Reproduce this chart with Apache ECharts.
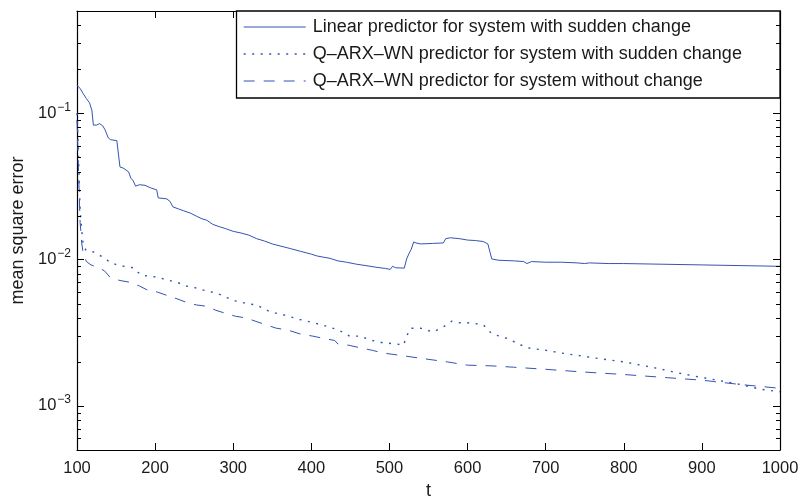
<!DOCTYPE html>
<html>
<head>
<meta charset="utf-8">
<script src="https://cdn.jsdelivr.net/npm/echarts@6/dist/echarts.min.js"></script>
<style>
  html, body { margin: 0; padding: 0; background: #ffffff; }
  #chart { width: 800px; height: 498px; }
</style>
</head>
<body>
<div id="chart"></div>
<script>
// Series names
const seriesNames = [
  'Linear predictor for system with sudden change',
  'Q\u2013ARX\u2013WN predictor for system with sudden change',
  'Q\u2013ARX\u2013WN predictor for system without change'
];

// Linear predictor, system with sudden change
const tLinear = [100,104,108,112,116,119,121,125,129,133,136,140,143,151,153,155,160,166,169,172,175,180,187,195,202,204,210,215,219,223,230,236,245,253,260,266,274,282,290,300,310,320,330,340,350,360,373,386,400,407,415,424,434,445,458,470,484,495,501,504,508,519,522,525,528,531,534,540,555,569,572,578,590,600,610,620,626,631,640,660,672,676,682,700,720,740,750,756,780,800,850,900,950,1000];
const mseLinear = [0.155,0.148,0.136,0.126,0.118,0.105,0.083,0.083,0.085,0.082,0.077,0.068,0.066,0.065,0.063,0.043,0.042,0.0398,0.036,0.0345,0.0318,0.0325,0.0322,0.0308,0.0300,0.0264,0.0262,0.0260,0.0250,0.0229,0.0222,0.0216,0.0208,0.0198,0.0190,0.0186,0.0174,0.0168,0.0163,0.0156,0.0152,0.0147,0.0139,0.0134,0.0128,0.0124,0.0119,0.0114,0.0109,0.0106,0.0104,0.0102,0.0098,0.0096,0.0093,0.0091,0.00885,0.0087,0.00857,0.0090,0.0088,0.00875,0.0101,0.0110,0.0118,0.0132,0.0130,0.0128,0.0129,0.0130,0.0139,0.0141,0.0139,0.0136,0.0135,0.0133,0.0128,0.0101,0.0099,0.0098,0.0097,0.0094,0.0097,0.0096,0.0096,0.0095,0.0094,0.0095,0.0094,0.0094,0.0093,0.0092,0.0091,0.0090];

// Q-ARX-WN predictor, system with sudden change
const tQarxChange = [100,101,102,103,104,106,108,112,121,127,134,142,151,160,172,178,183,195,206,218,228,240,253,266,279,292,304,318,330,347,364,385,403,420,435,449,462,478,492,510,518,522,527,540,556,566,574,580,590,600,620,626,632,650,676,700,720,745,770,800,822,845,865,890,920,950,975,1000];
const mseQarxChange = [0.1,0.075,0.05,0.032,0.022,0.016,0.0125,0.0115,0.0113,0.0108,0.0104,0.0096,0.0092,0.0090,0.0088,0.0082,0.0078,0.0077,0.0075,0.0072,0.0070,0.0066,0.0064,0.0061,0.0059,0.0055,0.0052,0.0050,0.0049,0.0044,0.0042,0.0039,0.0037,0.0035,0.0033,0.0030,0.0030,0.0028,0.0027,0.00265,0.0026,0.0030,0.0034,0.0034,0.0032,0.0034,0.0036,0.0038,0.0037,0.0037,0.0036,0.0033,0.0031,0.0029,0.0025,0.0024,0.0023,0.0022,0.0021,0.0020,0.0019,0.0018,0.0017,0.0016,0.0015,0.0014,0.0013,0.00125];

// Q-ARX-WN predictor, system without change
const tQarxNoChange = [100,101,102,103,104,106,108,112,118,125,135,143,155,168,180,190,203,215,228,240,253,266,278,290,303,316,328,341,355,370,386,402,415,430,434,448,462,478,492,518,545,574,600,630,659,700,745,800,856,900,950,1000];
const mseQarxNoChange = [0.09,0.06,0.04,0.026,0.018,0.013,0.011,0.0097,0.0092,0.0089,0.0084,0.0075,0.0072,0.0070,0.0066,0.0062,0.0060,0.0057,0.0054,0.0051,0.0049,0.0048,0.0045,0.0043,0.0041,0.0040,0.0038,0.0036,0.0034,0.0033,0.0031,0.0030,0.0029,0.0028,0.00265,0.0026,0.0025,0.0024,0.0023,0.0022,0.0021,0.0020,0.0019,0.00188,0.00184,0.00178,0.00171,0.00164,0.00156,0.0015,0.0014,0.00132];

// Axis ranges and tick values
const xMin = 100, xMax = 1000, xStep = 100;
const yMin = 0.0005, yMax = 0.5;
const yMajorTicks = [0.001, 0.01, 0.1];
const yMinorTicks = [
  0.0006, 0.0007, 0.0008, 0.0009,
  0.002, 0.003, 0.004, 0.005, 0.006, 0.007, 0.008, 0.009,
  0.02, 0.03, 0.04, 0.05, 0.06, 0.07, 0.08, 0.09,
  0.2, 0.3, 0.4
];

const lineColor = '#3553b2';
const textColor = '#1a1a1a';
const fontFamily = '"Liberation Sans", Arial, sans-serif';
const lineStyles = [
  { color: lineColor, width: 1, type: 'solid' },
  { color: lineColor, width: 1.4, type: [2, 6.5] },
  { color: lineColor, width: 1, type: [11, 9] }
];

function zip(xs, ys) { return xs.map((x, i) => [x, ys[i]]); }

const chart = echarts.init(document.getElementById('chart'), null, { renderer: 'canvas' });

const supLabel = v => {
  const e = Math.round(Math.log10(v));
  return '{base|10}{sup|' + (e < 0 ? '\u2212' + (-e) : e) + '}';
};

const commonX = {
  type: 'value', min: xMin, max: xMax, interval: xStep,
  splitLine: { show: false },
  axisLine: { lineStyle: { color: '#000', width: 1.2 } },
  axisTick: { inside: true, length: 7, lineStyle: { color: '#000', width: 1 } }
};
const commonY = {
  type: 'log', logBase: 10, min: yMin, max: yMax,
  splitLine: { show: false },
  minorTick: { show: false },
  axisLine: { show: true, lineStyle: { color: '#000', width: 1.2 } },
  axisTick: { inside: true, length: 7, lineStyle: { color: '#000', width: 1 } }
};

// Short inward ticks at 2..9 of every decade, on both vertical edges of the plot
function renderMinorTick(params, api) {
  const v = api.value(1);
  const pl = api.coord([xMin, v]);
  const pr = api.coord([xMax, v]);
  const y = Math.round(pl[1]) + 0.5;
  const len = 4;
  return {
    type: 'group',
    children: [
      { type: 'line', shape: { x1: pl[0], y1: y, x2: pl[0] + len, y2: y },
        style: { stroke: '#000', lineWidth: 1 } },
      { type: 'line', shape: { x1: pr[0], y1: y, x2: pr[0] - len, y2: y },
        style: { stroke: '#000', lineWidth: 1 } }
    ]
  };
}

const option = {
  animation: false,
  backgroundColor: '#ffffff',
  textStyle: { fontFamily: fontFamily, color: textColor },
  grid: { left: 77, right: 20, top: 11, bottom: 48, containLabel: false, outerBoundsMode: 'none' },
  xAxis: [
    Object.assign({}, commonX, {
      position: 'bottom',
      name: 't', nameLocation: 'middle', nameGap: 28,
      nameTextStyle: { fontSize: 18, color: textColor, fontFamily: fontFamily },
      axisLabel: { margin: 10, fontSize: 16.5, color: textColor, fontFamily: fontFamily,
        showMinLabel: true, showMaxLabel: true, formatter: v => String(v) }
    }),
    Object.assign({}, commonX, { position: 'top', axisLabel: { show: false } })
  ],
  yAxis: [
    Object.assign({}, commonY, {
      position: 'left',
      name: 'mean square error', nameLocation: 'middle', nameGap: 50,
      nameTextStyle: { fontSize: 18, color: textColor, fontFamily: fontFamily },
      axisLabel: {
        margin: 6,
        showMinLabel: false, showMaxLabel: false,
        formatter: supLabel,
        rich: {
          base: { fontSize: 16.5, color: textColor, fontFamily: fontFamily },
          sup: { fontSize: 12, color: textColor, fontFamily: fontFamily, padding: [0, 0, 12, 1] }
        }
      }
    }),
    Object.assign({}, commonY, { position: 'right', axisLabel: { show: false } })
  ],
  legend: {
    orient: 'vertical',
    left: 243, top: 17, z: 10,
    padding: 0,
    itemWidth: 62, itemHeight: 14, itemGap: 7,
    itemStyle: { opacity: 0 },
    textStyle: { fontSize: 18, color: textColor, fontFamily: fontFamily, lineHeight: 20, padding: [0, 0, 0, 2] },
    data: seriesNames.map((name, i) => ({ name: name, lineStyle: { width: lineStyles[i].width } }))
  },
  graphic: {
    elements: [
      // legend frame, flush with the plot's top-right corner
      { type: 'rect', silent: true, z: 1,
        shape: { x: 236.5, y: 11, width: 543.5, height: 87 },
        style: { fill: '#ffffff', stroke: '#000', lineWidth: 1.3 } }
    ]
  },
  series: [
    {
      name: seriesNames[0], type: 'line', symbol: 'none', smooth: false,
      data: zip(tLinear, mseLinear),
      lineStyle: lineStyles[0],
      itemStyle: { color: lineColor }
    },
    {
      name: seriesNames[1], type: 'line', symbol: 'none', smooth: false,
      data: zip(tQarxChange, mseQarxChange),
      lineStyle: lineStyles[1],
      itemStyle: { color: lineColor }
    },
    {
      name: seriesNames[2], type: 'line', symbol: 'none', smooth: false,
      data: zip(tQarxNoChange, mseQarxNoChange),
      lineStyle: lineStyles[2],
      itemStyle: { color: lineColor }
    },
    {
      name: 'minor ticks', type: 'custom', silent: true, clip: false, z: 5,
      data: yMinorTicks.map(v => [xMin, v]),
      renderItem: renderMinorTick
    }
  ]
};

chart.setOption(option);
</script>
</body>
</html>
